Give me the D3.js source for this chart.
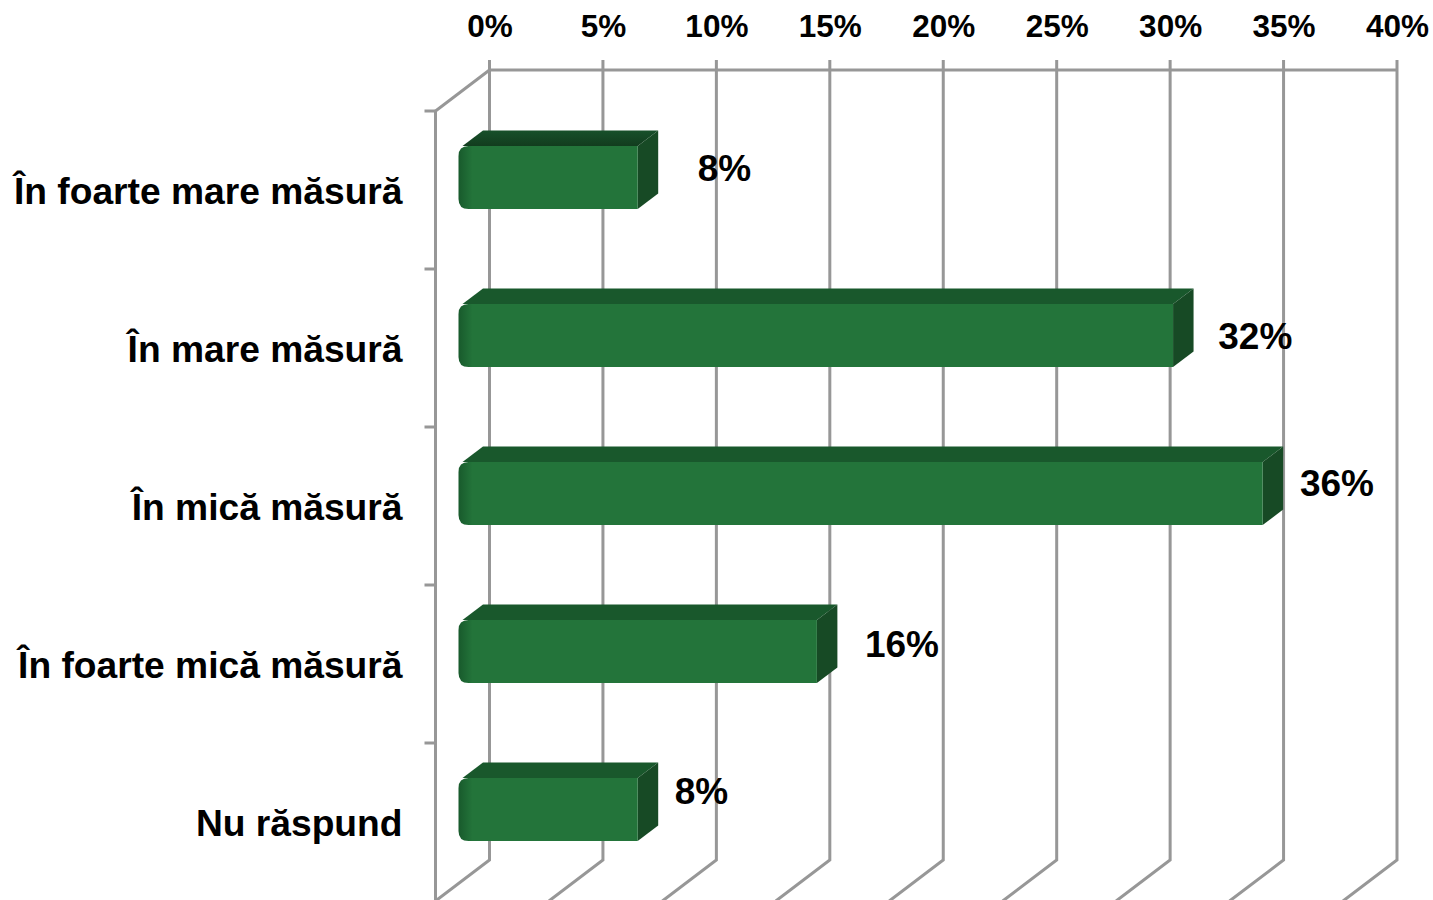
<!DOCTYPE html>
<html>
<head>
<meta charset="utf-8">
<script src="https://cdn.jsdelivr.net/npm/d3@7"></script>
<style>
  html, body { margin: 0; background: #fff; overflow: hidden; }
  text { font-family: "Liberation Sans", Arial, sans-serif; font-weight: bold; fill: #000; }
</style>
</head>
<body>
<div class="graph"></div>
<script>
const categories = ["În foarte mare măsură", "În mare măsură", "În mică măsură", "În foarte mică măsură", "Nu răspund"];
const values = [8, 31.9, 35.9, 16, 8];
const xTicks = [0, 5, 10, 15, 20, 25, 30, 35, 40];

//setting
const width = 1433;
const height = 900;
const wallTop = 70;
const wallBottom = 860;
const floorDx = 54;
const floorDy = 41;
const barDx = 20.5;
const barDy = 15.5;
const barHeight = 63;
// data labels were moved by hand in the original, so each has its own nudge
const labelNudge = [[60, -10], [43, 0], [35, -11], [48, -8], [37, -19]];

const svg = d3
  .select(".graph")
  .append("svg")
  .attr("width", width)
  .attr("height", height)
  .style("display", "block");

//scales
const xWall = d3.scaleLinear().domain([0, 40]).range([489.5, 1397]);
const xBar = d3.scaleLinear().domain([0, 40]).range([458.5, 1354.5]);
const y = d3
  .scaleBand()
  .domain(categories)
  .range([wallTop + floorDy, wallBottom + floorDy]);

//gradients
const defs = svg.append("defs");
const frontGrad = defs
  .append("linearGradient")
  .attr("id", "frontGrad")
  .attr("gradientUnits", "userSpaceOnUse")
  .attr("x1", xBar(0))
  .attr("x2", xBar(0) + 14)
  .attr("y1", 0)
  .attr("y2", 0);
frontGrad.append("stop").attr("offset", 0).attr("stop-color", "#185a2c");
frontGrad.append("stop").attr("offset", 1).attr("stop-color", "#23743a");
// the top bar's lid goes darker towards the front edge
const lidGrad = defs
  .append("linearGradient")
  .attr("id", "lidGrad")
  .attr("x1", 0)
  .attr("x2", 0)
  .attr("y1", 0)
  .attr("y2", 1);
lidGrad.append("stop").attr("offset", 0).attr("stop-color", "#17502a");
lidGrad.append("stop").attr("offset", 1).attr("stop-color", "#123c1e");

//walls
const grid = svg.append("g").attr("fill", "none").attr("stroke", "#979797").attr("stroke-width", 3);
grid
  .selectAll(".wall")
  .data(xTicks)
  .enter()
  .append("path")
  .attr("class", "wall")
  .attr("d", d => {
    const x0 = xWall(d);
    return `M${x0},${wallTop - 10}V${wallBottom}L${x0 - floorDx},${wallBottom + floorDy}`;
  });
grid
  .append("path")
  .attr("d", `M${xWall(0)},${wallTop}H${xWall(40)}`);
grid
  .append("path")
  .attr("d", `M${xWall(0)},${wallTop}L${xWall(0) - floorDx},${wallTop + floorDy}V${height + 5}`);
grid
  .selectAll(".cat-tick")
  .data(categories)
  .enter()
  .append("path")
  .attr("class", "cat-tick")
  .attr("d", d => `M${xWall(0) - floorDx - 11},${y(d)}h11`);

//x axis labels
const xAxis = d3
  .axisTop(xWall)
  .tickValues(xTicks)
  .tickSize(0)
  .tickFormat(d => d + "%");
const xAxisG = svg.append("g").attr("transform", `translate(0,${wallTop - 30})`).call(xAxis);
xAxisG.select(".domain").remove();
xAxisG.selectAll("text").style("font-size", "31.5px").attr("font-family", null);

//category labels
svg
  .selectAll(".cat")
  .data(categories)
  .enter()
  .append("text")
  .attr("class", "cat")
  .attr("x", 402.5)
  .attr("y", d => y(d) + y.bandwidth() / 2 + 0.5)
  .attr("dy", "0.36em")
  .attr("text-anchor", "end")
  .style("font-size", "37.2px")
  .text(d => d);

//bars
const bars = svg
  .selectAll(".bar")
  .data(values)
  .enter()
  .append("g")
  .attr("class", "bar");
const faceTop = i => y(categories[i]) + 35;

bars
  .append("path")
  .attr("fill", (d, i) => (i === 0 ? "url(#lidGrad)" : "#19582c"))
  .attr("d", (d, i) => {
    const x0 = xBar(0) + 4;
    const x1 = xBar(d);
    const t = faceTop(i);
    return `M${x0},${t}L${x0 + barDx},${t - barDy}H${x1 + barDx}L${x1},${t}Z`;
  });
bars
  .append("path")
  .attr("fill", "#174a25")
  .attr("d", (d, i) => {
    const x1 = xBar(d);
    const t = faceTop(i);
    return `M${x1},${t}L${x1 + barDx},${t - barDy}V${t - barDy + barHeight}L${x1},${t + barHeight}Z`;
  });
bars
  .append("path")
  .attr("fill", "url(#frontGrad)")
  .attr("d", (d, i) => {
    const x0 = xBar(0);
    const x1 = xBar(d);
    const t = faceTop(i);
    const r = 10;
    return `M${x0 + r},${t}H${x1}V${t + barHeight}H${x0 + r}Q${x0},${t + barHeight} ${x0},${t + barHeight - r}V${t + r}Q${x0},${t} ${x0 + r},${t}Z`;
  });

//value labels
bars
  .append("text")
  .attr("x", (d, i) => xBar(Math.round(d)) + barDx + labelNudge[i][0] - 20.5)
  .attr("y", (d, i) => y(categories[i]) + y.bandwidth() / 2 + labelNudge[i][1] - 12)
  .attr("dy", "0.36em")
  .style("font-size", "37px")
  .text(d => Math.round(d) + "%");
</script>
</body>
</html>
